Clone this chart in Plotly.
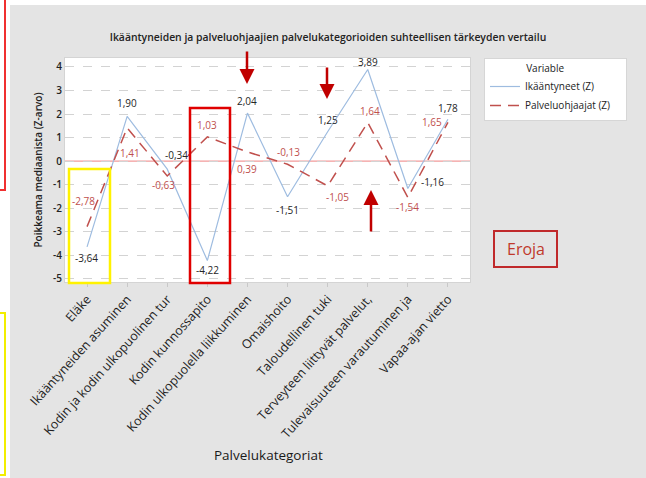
import plotly.graph_objects as go

# ---------------- data ----------------
categories = [
    "Eläke",
    "Ikääntyneiden asuminen",
    "Kodin ja kodin ulkopuolinen tur",
    "Kodin kunnossapito",
    "Kodin ulkopuolella liikkuminen",
    "Omaishoito",
    "Taloudellinen tuki",
    "Terveyteen liittyvät palvelut,",
    "Tulevaisuuteen varautuminen ja",
    "Vapaa-ajan vietto",
]
ikaantyneet = [-3.64, 1.90, -0.34, -4.22, 2.04, -1.51, 1.25, 3.89, -1.16, 1.78]
palveluohjaajat = [-2.78, 1.41, -0.63, 1.03, 0.39, -0.13, -1.05, 1.64, -1.54, 1.65]
ytick_vals = [4, 3, 2, 1, 0, -1, -2, -3, -4, -5]
series_names = ["Ikääntyneet (Z)", "Palveluohjaajat (Z)"]

# ---------------- layout helpers (pixel -> paper) ----------------
W, H = 646, 478
L, R, T, B = 65, 470, 58, 282


def px(x):
    return (x - L) / (R - L)


def py(y):
    return (B - y) / (B - T)


FONT = "Open Sans"
BLUE = "#9EBCE0"
RED = "#C0504D"
LABEL_RED = "#C0504D"
LABEL_DARK = "#262626"
PAD = "\u00a0" * 4  # trailing space to widen the legend box

# label offsets (pixels: dx right, dy down)
ik_off = [(-1, 11), (0, -13), (9, -14), (0, 9), (0, -12), (0, 13), (0, -12), (0, -8), (25, -6), (0, -11)]
pa_off = [(-4, -26), (3, 25), (-4, 9), (0, -12), (0, 17), (1, -12), (10, 11), (2, -12), (0, 10), (-16, 0)]


def fmt(v):
    return f"{v:.2f}".replace(".", ",")


fig = go.Figure()
fig.add_trace(go.Scatter(
    x=categories, y=ikaantyneet, mode="lines", name=series_names[0] + PAD,
    line=dict(color=BLUE, width=1.2),
))
fig.add_trace(go.Scatter(
    x=categories, y=palveluohjaajat, mode="lines", name=series_names[1] + PAD,
    line=dict(color=RED, width=1.5, dash="11px,7px"),
))

annotations = []
for c, v, (dx, dy) in zip(categories, ikaantyneet, ik_off):
    annotations.append(dict(x=c, y=v, xref="x", yref="y", text=fmt(v), showarrow=False,
                            xanchor="center", yanchor="middle",
                            xshift=dx, yshift=-dy, font=dict(family=FONT, size=10, color=LABEL_DARK)))
for c, v, (dx, dy) in zip(categories, palveluohjaajat, pa_off):
    annotations.append(dict(x=c, y=v, xref="x", yref="y", text=fmt(v), showarrow=False,
                            xanchor="center", yanchor="middle",
                            xshift=dx, yshift=-dy, font=dict(family=FONT, size=10, color=LABEL_RED)))

# red arrows
for (ax_px, tip_y, tail_y) in [(247, 84, 50), (327, 99, 66), (371, 190, 233)]:
    annotations.append(dict(x=px(ax_px), y=py(tip_y), xref="paper", yref="paper", text="",
                            showarrow=True, ax=0, ay=tail_y - tip_y, arrowcolor="#C00000",
                            arrowwidth=2.5, arrowhead=2, arrowsize=1.2))

# Eroja text
annotations.append(dict(x=px(525.5), y=py(249), xref="paper", yref="paper", text="Eroja",
                        xanchor="center", yanchor="middle",
                        showarrow=False, font=dict(family=FONT, size=16, color="#C0392B")))
# x axis title
annotations.append(dict(x=px(268), y=py(455), xref="paper", yref="paper", text="Palvelukategoriat",
                        xanchor="center", yanchor="middle",
                        showarrow=False, font=dict(family=FONT, size=13.5, color="#1a1a1a")))

shapes = [
    # white margins outside the grey panel
    dict(type="rect", xref="paper", yref="paper", x0=px(0), x1=px(10), y0=py(478), y1=py(0),
         fillcolor="white", line=dict(width=0), layer="below"),
    dict(type="rect", xref="paper", yref="paper", x0=px(0), x1=px(646), y0=py(5), y1=py(0),
         fillcolor="white", line=dict(width=0), layer="below"),
    # zero reference line
    dict(type="line", xref="paper", yref="y", x0=0, x1=1, y0=0, y1=0,
         line=dict(color="#F29A9A", width=1.2), layer="below"),
    # partial boxes at far left
    dict(type="rect", xref="paper", yref="paper", x0=px(-10), x1=px(5), y0=py(190), y1=py(-10),
         line=dict(color="#F03030", width=2)),
    dict(type="rect", xref="paper", yref="paper", x0=px(-10), x1=px(5), y0=py(475), y1=py(313),
         line=dict(color="#F2EE00", width=2)),
    # highlight boxes inside plot
    dict(type="rect", xref="paper", yref="paper", x0=px(69), x1=px(110), y0=py(283), y1=py(169),
         line=dict(color="#FFF200", width=2.5)),
    dict(type="rect", xref="paper", yref="paper", x0=px(190), x1=px(230), y0=py(283), y1=py(108),
         line=dict(color="#E00000", width=2.5)),
    # Eroja box
    dict(type="rect", xref="paper", yref="paper", x0=px(494), x1=px(557), y0=py(267), y1=py(231),
         line=dict(color="#C0292B", width=2)),
]

fig.update_layout(
    width=W, height=H,
    margin=dict(l=L, r=W - R, t=T, b=H - B, pad=0),
    paper_bgcolor="#E4E4E4",
    plot_bgcolor="white",
    font=dict(family=FONT, size=10, color="#222"),
    title=dict(text="Ikääntyneiden ja palveluohjaajien palvelukategorioiden suhteellisen tärkeyden vertailu",
               x=px(328), xanchor="center", xref="paper", y=1 - 37 / H, yanchor="middle",
               font=dict(family=FONT, size=10.4, color="#222", weight=600)),
    xaxis=dict(
        type="category", range=[-0.55, 9.55], showgrid=False,
        tickangle=-48, tickfont=dict(family=FONT, size=12.5, color="#1e1e1e"),
        ticks="outside", ticklen=4, tickcolor="#C8C8C8",
        showline=True, linecolor="#D4D4D4", mirror=True, zeroline=False,
    ),
    yaxis=dict(
        range=[-5.13, 4.38], tickvals=ytick_vals, ticktext=[str(v) for v in ytick_vals],
        showgrid=True, gridcolor="#D3D3D3", griddash="dash", gridwidth=1,
        zeroline=False,
        ticks="", tickfont=dict(family=FONT, size=10, color="#222", weight=600),
        showline=True, linecolor="#D4D4D4", mirror=True,
        title=dict(text="Poikkeama mediaanista (Z-arvo)", standoff=8,
                   font=dict(family=FONT, size=10, color="#222", weight=600)),
        automargin=False,
    ),
    legend=dict(
        title=dict(text="Variable" + "\u00a0" * 8, side="top center",
                   font=dict(family=FONT, size=10, color="#222")),
        x=px(484), y=py(58), xanchor="left", yanchor="top",
        bgcolor="white", bordercolor="#D6D6D6", borderwidth=1,
        font=dict(family=FONT, size=10, color="#222"),
        tracegroupgap=0,
    ),
    annotations=annotations,
    shapes=shapes,
)

fig.write_html(
    "out.html",
    config={"displayModeBar": False},
    post_script="document.body.style.margin='0';document.body.style.overflow='hidden';",
)
